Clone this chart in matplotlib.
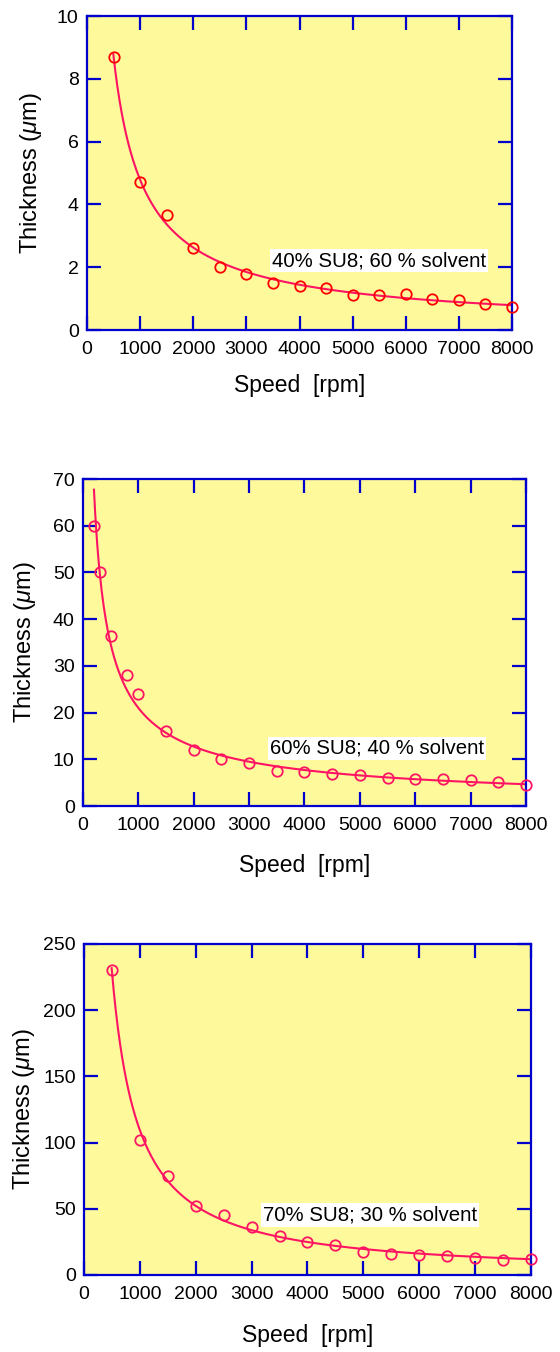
import numpy as np
import matplotlib
matplotlib.use("Agg")
import matplotlib.pyplot as plt

plt.rcParams['font.family'] = ['Liberation Sans', 'DejaVu Sans']
plt.rcParams['mathtext.fontset'] = 'custom'
plt.rcParams['mathtext.rm'] = 'Liberation Sans'
plt.rcParams['mathtext.it'] = 'Liberation Sans:italic'

# spin speed (rpm) and film thickness (um) for each resist mix
speed_40 = [500, 1000, 1500, 2000, 2500, 3000, 3500, 4000, 4500, 5000,
            5500, 6000, 6500, 7000, 7500, 8000]
thick_40 = [8.70, 4.71, 3.66, 2.60, 2.00, 1.80, 1.50, 1.41, 1.33, 1.11,
            1.12, 1.16, 1.00, 0.95, 0.82, 0.74]

speed_60 = [200, 300, 500, 800, 1000, 1500, 2000, 2500, 3000, 3500,
            4000, 4500, 5000, 5500, 6000, 6500, 7000, 7500, 8000]
thick_60 = [60.0, 50.0, 36.5, 28.0, 24.0, 16.0, 12.1, 10.0, 9.2, 7.6,
            7.3, 6.9, 6.6, 6.0, 5.8, 5.7, 5.5, 5.1, 4.6]

speed_70 = [500, 1000, 1500, 2000, 2500, 3000, 3500, 4000, 4500, 5000,
            5500, 6000, 6500, 7000, 7500, 8000]
thick_70 = [230.6, 102.3, 75.1, 52.4, 44.9, 36.3, 29.2, 25.2, 22.4, 17.1,
            16.1, 15.4, 14.1, 13.1, 11.6, 12.0]

labels = ['40% SU8; 60 % solvent', '60% SU8; 40 % solvent', '70% SU8; 30 % solvent']
y_max = [10, 70, 250]
y_step = [2, 10, 50]
fit_space = ['linear', 'log', 'linear']

BLUE = '#0000CC'
BG = '#FEF99B'
LINE = '#FF1464'


def power_fit(x, y, space):
    # y = a * x^-b ; least squares either on y or on log(y)
    if space == 'log':
        s, c = np.polyfit(np.log(x), np.log(y), 1)
        return np.exp(c), -s
    best = None
    for b in np.linspace(0.2, 1.6, 1401):
        xb = x ** -b
        a = np.sum(y * xb) / np.sum(xb * xb)
        err = np.sum((y - a * xb) ** 2)
        if best is None or err < best[0]:
            best = (err, a, b)
    return best[1], best[2]


fig = plt.figure(figsize=(5.6, 13.52), dpi=100)

# axes boxes in figure fractions
boxes = [[0.1554, 0.7559, 0.759, 0.2322],
         [0.1482, 0.4038, 0.791, 0.2419],
         [0.1500, 0.0570, 0.798, 0.2448]]
note_pos = [(3480, 2.2), (3380, 12.4), (3200, 45.3)]
mark_col = ['#FF0000', LINE, LINE]
ylab_x = [-0.132, -0.131, -0.134]
xlab_y = [-0.178, -0.182, -0.184]

panels = [(speed_40, thick_40), (speed_60, thick_60), (speed_70, thick_70)]

for i, (x, y) in enumerate(panels):
    ax = fig.add_axes(boxes[i])
    ax.set_facecolor(BG)
    x = np.array(x, dtype=float)
    y = np.array(y, dtype=float)

    a, b = power_fit(x, y, fit_space[i])
    xf = np.linspace(x.min() * 0.99, 8000, 400)
    ax.plot(xf, a * xf ** -b, color=LINE, lw=1.5, zorder=2)
    ax.plot(x, y, 'o', mfc='none', mec=mark_col[i], ms=7.5, mew=1.3, zorder=3,
            clip_on=False)

    ax.set_xlim(0, 8000)
    ax.set_ylim(0, y_max[i])
    ax.set_xticks(np.arange(0, 8001, 1000))
    ax.set_yticks(np.arange(0, y_max[i] + 1, y_step[i]))
    ax.tick_params(direction='in', length=10, width=1.6, color=BLUE,
                   top=True, right=True, labelsize=14)
    ax.tick_params(axis='x', pad=8)
    ax.tick_params(axis='y', pad=6)
    for s in ax.spines.values():
        s.set_color(BLUE)
        s.set_linewidth(1.6)

    ax.set_xlabel('Speed  [rpm]', fontsize=16.5, va='center')
    ax.xaxis.set_label_coords(0.5, xlab_y[i])
    ax.set_ylabel(r'Thickness ($\mu$m)', fontsize=17, va='center')
    ax.yaxis.set_label_coords(ylab_x[i], 0.5)
    ax.text(note_pos[i][0], note_pos[i][1], labels[i], fontsize=14.7, va='center',
            bbox=dict(facecolor='white', edgecolor='none', pad=1.5), zorder=4)

fig.savefig('out.png', dpi=100)
